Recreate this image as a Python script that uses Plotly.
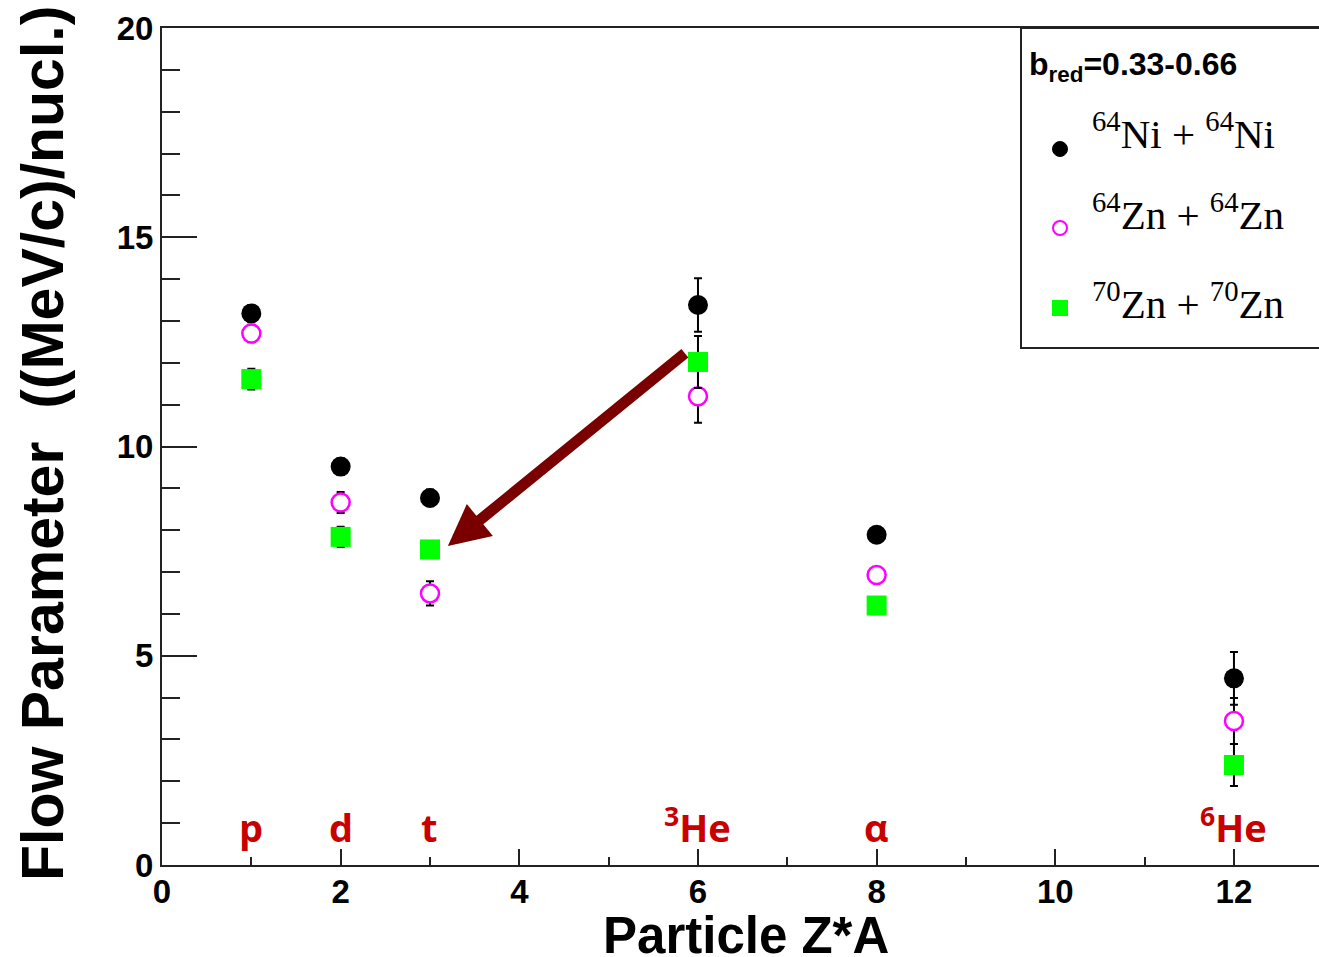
import plotly.graph_objects as go

# ---- data ----
za = [1, 2, 3, 6, 8, 12]
particles = ["p", "d", "t", "<sup>3</sup>He", "α", "<sup>6</sup>He"]
ni = [13.18, 9.52, 8.77, 13.38, 7.89, 4.46]
ni_err = [0.20, 0.20, 0.20, 0.64, 0.15, 0.63]
zn64 = [12.70, 8.66, 6.49, 11.20, 6.93, 3.44]
zn64_err = [0.21, 0.25, 0.29, 0.63, 0.15, 0.55]
zn70 = [11.61, 7.84, 7.54, 12.02, 6.20, 2.39]
zn70_err = [0.25, 0.24, 0.20, 0.62, 0.15, 0.50]
series_names = ["<sup>64</sup>Ni + <sup>64</sup>Ni",
                "<sup>64</sup>Zn + <sup>64</sup>Zn",
                "<sup>70</sup>Zn + <sup>70</sup>Zn"]
xticks = [0, 2, 4, 6, 8, 10, 12]
yticks = [0, 5, 10, 15, 20]

W, H = 1319, 957
L, R, T, B = 162, 0, 28, 92
pw, ph = W - L - R, H - T - B
xscale = 89.33
xmax = pw / xscale

def px_x(p):
    return (p - L) / pw

def px_y(p):
    return (H - B - p) / ph

fig = go.Figure()

err = dict(type="data", color="black", thickness=2, width=4)
fig.add_trace(go.Scatter(x=za, y=ni, mode="markers", name=series_names[0],
                         error_y=dict(array=ni_err, **err),
                         marker=dict(symbol="circle", size=20, color="black")))
fig.add_trace(go.Scatter(x=za, y=zn64, mode="markers", name=series_names[1],
                         error_y=dict(array=zn64_err, **err),
                         marker=dict(symbol="circle", size=18, color="white",
                                     line=dict(color="#ff00ff", width=2.5))))
fig.add_trace(go.Scatter(x=za, y=zn70, mode="markers", name=series_names[2],
                         error_y=dict(array=zn70_err, **err),
                         marker=dict(symbol="square", size=20, color="#00ff00")))

annotations = []
# particle labels
for xv, lab in zip(za, particles):
    annotations.append(dict(x=xv, y=0.24, xref="x", yref="y", text=lab,
                            showarrow=False, xanchor="center", yanchor="bottom",
                            font=dict(family="Open Sans", size=38, color="#c80000",
                                      weight="bold")))
# arrow
annotations.append(dict(x=3.2, y=7.62, ax=5.87, ay=12.26, xref="x", yref="y",
                        axref="x", ayref="y", text="", showarrow=True,
                        arrowhead=2, arrowsize=0.75, arrowwidth=11,
                        arrowcolor="#7a0000", standoff=0))
# axis titles
annotations.append(dict(x=px_x(43), y=px_y(444), xref="paper", yref="paper",
                        text="Flow Parameter  ((MeV/c)/nucl.)", textangle=-90,
                        showarrow=False, xanchor="center", yanchor="middle",
                        font=dict(family="Liberation Sans", size=59, color="black",
                                  weight="bold")))
annotations.append(dict(x=px_x(746), y=px_y(935), xref="paper", yref="paper",
                        text="Particle Z*A", showarrow=False,
                        xanchor="center", yanchor="middle",
                        font=dict(family="Liberation Sans", size=51, color="black",
                                  weight="bold")))
# legend
annotations.append(dict(x=px_x(1027), y=px_y(44), xref="paper", yref="paper",
                        text="b<sub>red</sub>=0.33-0.66", showarrow=False,
                        xanchor="left", yanchor="top",
                        font=dict(family="Liberation Sans", size=32, color="black",
                                  weight="bold")))
row_base = [159, 240, 329]
row_mark = [149, 228, 308]
for name, yb in zip(series_names, row_base):
    annotations.append(dict(x=px_x(1090), y=px_y(yb), xref="paper", yref="paper",
                            text=name, showarrow=False, xanchor="left",
                            yanchor="bottom",
                            font=dict(family="Liberation Serif", size=41,
                                      color="black")))

shapes = [dict(type="rect", xref="paper", yref="paper",
               x0=px_x(1021), x1=1.05, y0=px_y(348), y1=1.0,
               line=dict(color="#222222", width=2), fillcolor="white", layer="below")]
mk_styles = [dict(type="circle", fillcolor="black", line=dict(color="black", width=1), r=7.5),
             dict(type="circle", fillcolor="white", line=dict(color="#ff00ff", width=2), r=7),
             dict(type="rect", fillcolor="#00ff00", line=dict(color="#00ff00", width=0), r=8)]
for st, ym in zip(mk_styles, row_mark):
    r = st["r"]
    shapes.append(dict(type=st["type"], xref="paper", yref="paper",
                       xsizemode="pixel", ysizemode="pixel",
                       xanchor=px_x(1060), yanchor=px_y(ym),
                       x0=-r, x1=r, y0=-r, y1=r,
                       fillcolor=st["fillcolor"], line=st["line"]))

axis_common = dict(showgrid=False, zeroline=False, showline=True,
                   linecolor="#222222", linewidth=2, ticks="inside",
                   tickcolor="#222222", tickwidth=2,
                   tickfont=dict(family="Liberation Sans", size=33, color="black",
                                 weight="bold"))
fig.update_layout(
    width=W, height=H, margin=dict(l=L, r=R, t=T, b=B, pad=0),
    plot_bgcolor="white", paper_bgcolor="white", showlegend=False,
    xaxis=dict(range=[0, xmax], tickvals=xticks, ticklen=16, mirror=True,
               ticklabelstandoff=-4,
               minor=dict(dtick=1, ticklen=8, tickcolor="#222222", tickwidth=2,
                          ticks="inside"),
               **axis_common),
    yaxis=dict(range=[0, 20], tickvals=yticks, ticklen=35,
               minor=dict(dtick=1, ticklen=18, tickcolor="#222222", tickwidth=2,
                          ticks="inside"),
               **axis_common),
    annotations=annotations, shapes=shapes,
)

fig.write_html("out.html")
